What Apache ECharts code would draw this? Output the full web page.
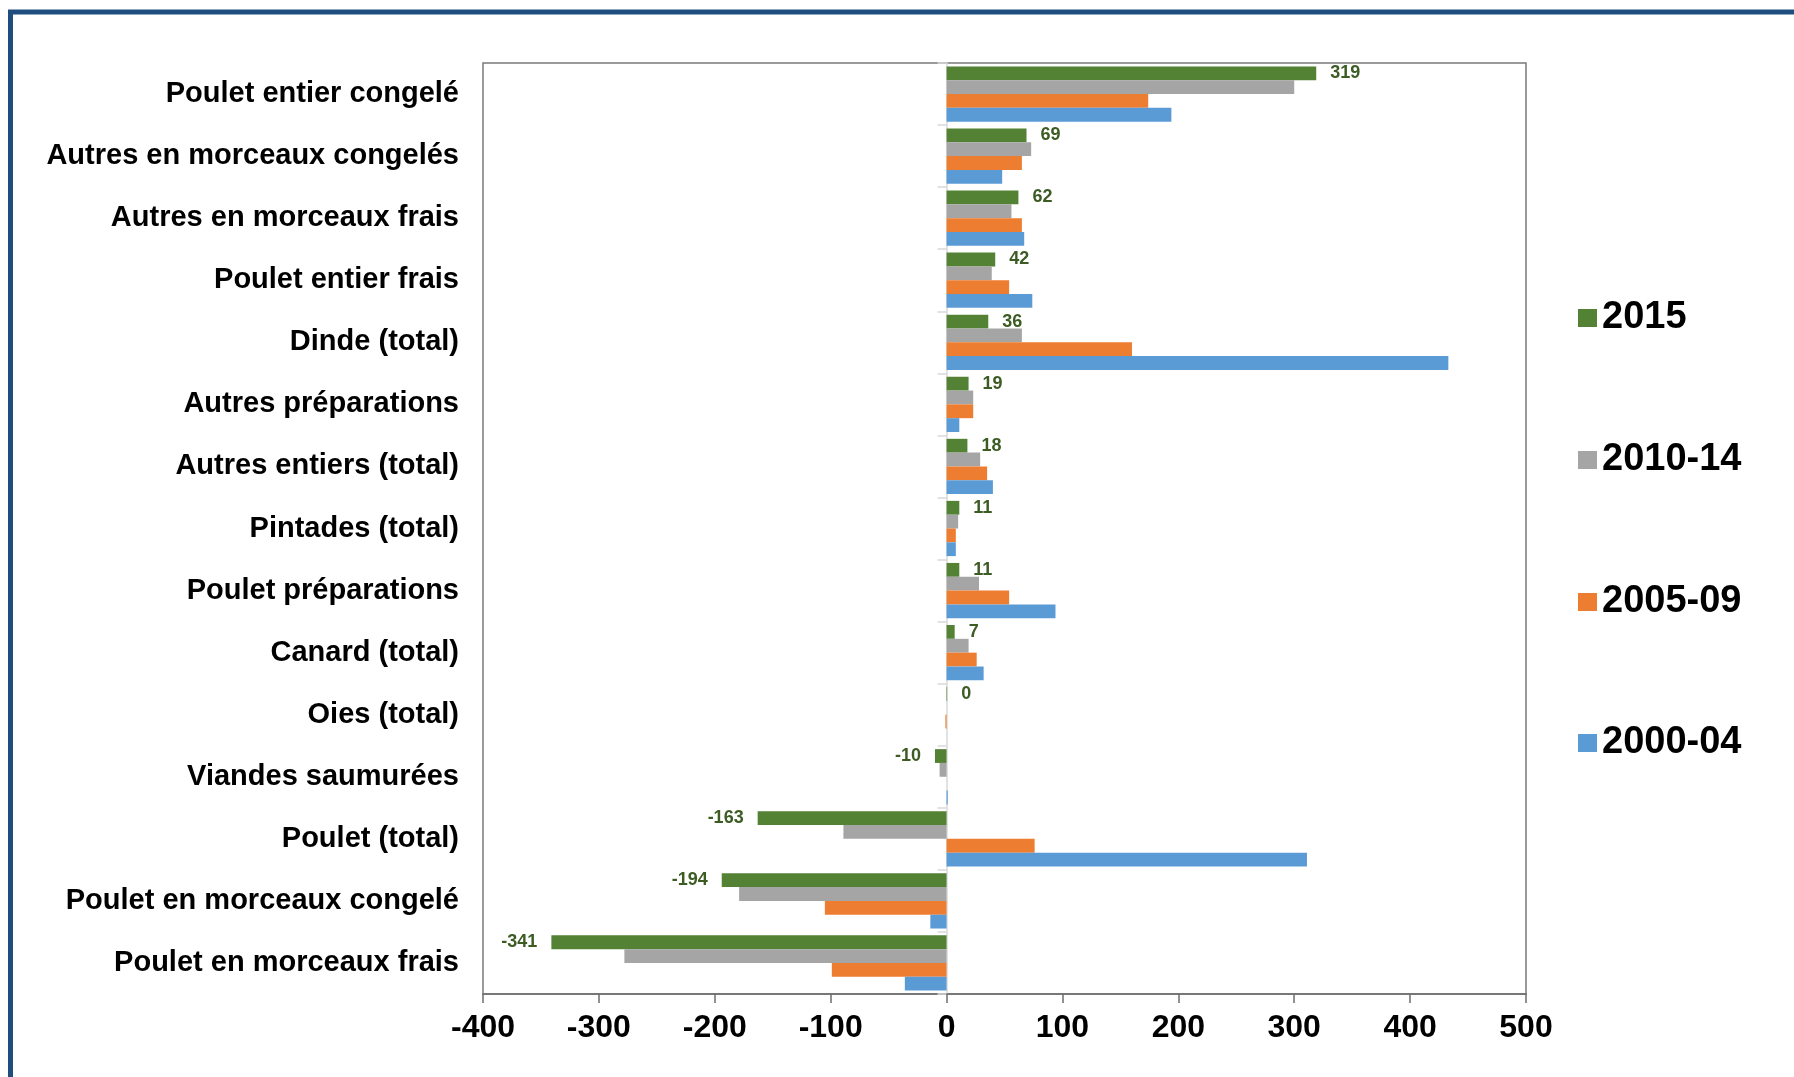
<!DOCTYPE html>
<html lang="fr">
<head>
    <meta charset="UTF-8">
    <title>Volailles</title>
    <script src="https://cdn.jsdelivr.net/npm/echarts@6/dist/echarts.min.js"></script>
    <style>
        * {
            margin: 0;
            padding: 0;
        }

        html, body {
            width: 100%;
            height: 100%;
            overflow: hidden;
            background: #fff;
        }

        .box {
            width: 1794px;
            height: 1077px;
        }
    </style>
</head>
<body>
<div class="box"></div>
<script>
    // categories, top to bottom
    let categories = [
        'Poulet entier congelé',
        'Autres en morceaux congelés',
        'Autres en morceaux frais',
        'Poulet entier frais',
        'Dinde (total)',
        'Autres préparations',
        'Autres entiers (total)',
        'Pintades (total)',
        'Poulet préparations',
        'Canard (total)',
        'Oies (total)',
        'Viandes saumurées',
        'Poulet (total)',
        'Poulet en morceaux congelé',
        'Poulet en morceaux frais'
    ];
    let periods = ['2015', '2010-14', '2005-09', '2000-04'];
    let v2015 = [319, 69, 62, 42, 36, 19, 18, 11, 11, 7, 0.5, -10, -163, -194, -341];
    let v2010 = [300, 73, 56, 39, 65, 23, 29, 10, 28, 19, 0, -6, -89, -179, -278];
    let v2005 = [174, 65, 65, 54, 160, 23, 35, 8, 54, 26, -1, 0, 76, -105, -99];
    let v2000 = [194, 48, 67, 74, 433, 11, 40, 8, 94, 32, 0, 1, 311, -14, -36];
    let labels2015 = ['319', '69', '62', '42', '36', '19', '18', '11', '11', '7', '0', '-10', '-163', '-194', '-341'];
    let xTicks = [-400, -300, -200, -100, 0, 100, 200, 300, 400, 500];

    let colors = ['#548235', '#a5a5a5', '#ed7d31', '#5b9bd5'];
    let values = [v2015, v2010, v2005, v2000];

    let chart = echarts.init(document.querySelector('.box'));

    let series = periods.map((name, i) => {
        let data = values[i];
        if (i == 0) {
            data = values[i].map((v, k) => ({
                value: v,
                label: {
                    show: true,
                    position: v < 0 ? 'left' : 'right',
                    formatter: labels2015[k]
                }
            }));
        }
        return {
            name: name,
            type: 'bar',
            data: data,
            barGap: '0%',
            barCategoryGap: '11%',
            itemStyle: {color: colors[i]},
            label: {
                show: false,
                distance: 14,
                color: '#3d5c24',
                fontSize: 18,
                fontWeight: 'bold',
                fontFamily: 'Liberation Sans'
            }
        };
    });

    let legendCenters = [316, 458, 600, 741];
    let legends = periods.map((name, i) => ({
        data: [name],
        orient: 'vertical',
        left: 1578,
        top: legendCenters[i] - 17,
        padding: 0,
        itemWidth: 19,
        itemHeight: 18,
        icon: 'rect',
        selectedMode: false,
        textStyle: {
            fontSize: 38,
            fontWeight: 'bold',
            color: '#000',
            fontFamily: 'Liberation Sans'
        }
    }));

    let option = {
        backgroundColor: '#fff',
        animation: false,
        graphic: [{
            type: 'rect',
            shape: {x: 10.5, y: 12, width: 1900, height: 1200},
            style: {fill: 'none', stroke: '#1f4e7e', lineWidth: 5}
        }],
        legend: legends,
        grid: {
            left: 483,
            right: 268,
            top: 63,
            bottom: 83,
            show: true,
            borderColor: '#7a7a7a',
            borderWidth: 1.5
        },
        xAxis: {
            type: 'value',
            min: -400,
            max: 500,
            interval: 100,
            splitLine: {show: false},
            axisLine: {show: true, onZero: false, lineStyle: {color: '#6e6e6e', width: 1.5}},
            axisTick: {show: true, length: 9, lineStyle: {color: '#6e6e6e', width: 1.5}},
            axisLabel: {
                margin: 18,
                fontSize: 32,
                fontWeight: 'bold',
                color: '#000',
                fontFamily: 'Liberation Sans',
                formatter: v => xTicks.includes(v) ? String(v) : ''
            }
        },
        yAxis: [{
            type: 'category',
            data: categories,
            inverse: true,
            position: 'left',
            axisLine: {show: false, onZero: false},
            axisTick: {show: false},
            axisLabel: {
                margin: 24,
                fontSize: 29,
                fontWeight: 'bold',
                color: '#000',
                fontFamily: 'Liberation Sans',
                padding: [8, 0, 0, 0]
            }
        }, {
            type: 'category',
            data: categories,
            inverse: true,
            position: 'left',
            axisLine: {show: true, onZero: true, lineStyle: {color: '#d9d9d9', width: 1.5}},
            axisTick: {show: true, length: 9, lineStyle: {color: '#d9d9d9', width: 1.5}},
            axisLabel: {show: false}
        }],
        series
    };
    chart.setOption(option);
</script>
</body>
</html>
